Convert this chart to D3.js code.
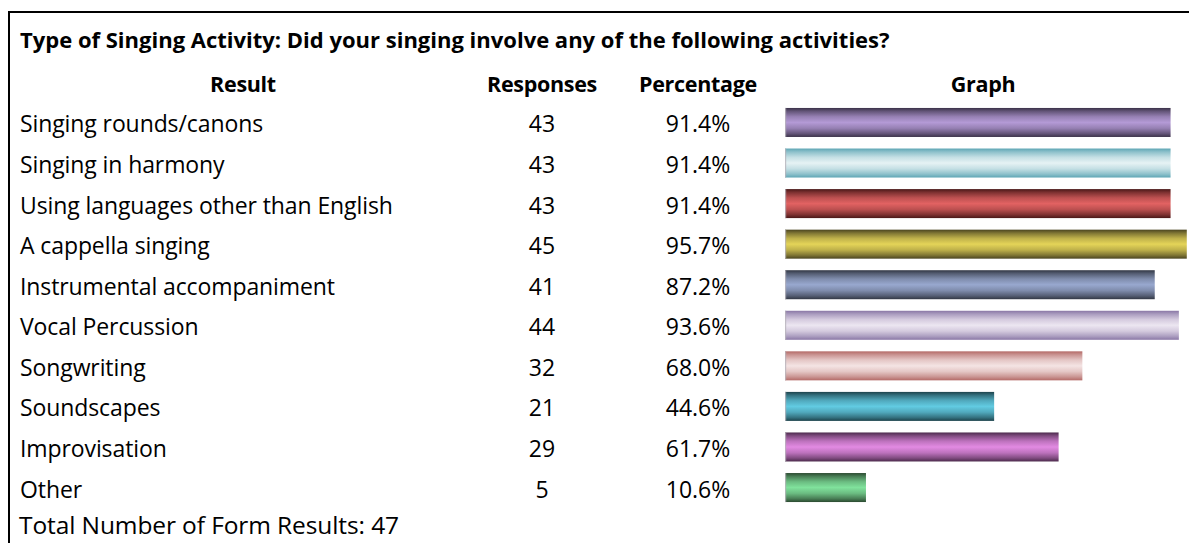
<!DOCTYPE html>
<html>
<head>
<meta charset="utf-8">
<script src="https://cdn.jsdelivr.net/npm/d3@7"></script>
<style>
  body { margin: 0; background: #fff; }
  svg { display: block; }
  text { font-family: "Open Sans", "Noto Sans", sans-serif; fill: #000; }
</style>
</head>
<body>
<svg id="chart" width="1189" height="543"></svg>
<script>
// Survey summary: type of singing activity
const titleText = "Type of Singing Activity: Did your singing involve any of the following activities?";
const headers = ["Result", "Responses", "Percentage", "Graph"];
const categories = [
  "Singing rounds/canons",
  "Singing in harmony",
  "Using languages other than English",
  "A cappella singing",
  "Instrumental accompaniment",
  "Vocal Percussion",
  "Songwriting",
  "Soundscapes",
  "Improvisation",
  "Other"
];
const responses = [43, 43, 43, 45, 41, 44, 32, 21, 29, 5];
const percentages = [91.4, 91.4, 91.4, 95.7, 87.2, 93.6, 68.0, 44.6, 61.7, 10.6];
const totalResults = 47;

// Tube shading: outer (top/bottom) tone and centre highlight per bar
const edgeColors = ["#3b3249", "#5ea6b5", "#4a1818", "#4a4420", "#323744", "#8a77a6", "#b46a67", "#1d434c", "#4c2a4c", "#2b4a30"];
const glowColors = ["#b49ad6", "#e6f2f4", "#e26262", "#e4d458", "#98a8cf", "#ece6f1", "#f4e4e4", "#62cbe2", "#e28ae2", "#80e29c"];

const svg = d3.select("#chart");
const W = 1189, H = 543;

// frame lines (top and left)
svg.append("line").attr("x1", 8).attr("x2", W).attr("y1", 12).attr("y2", 12)
  .attr("stroke", "#000").attr("stroke-width", 2);
svg.append("line").attr("x1", 9).attr("x2", 9).attr("y1", 11).attr("y2", H)
  .attr("stroke", "#000").attr("stroke-width", 2);

svg.append("text").attr("x", 20).attr("y", 48)
  .attr("font-size", 22).attr("font-weight", "bold")
  .text(titleText);

// column centres
const colX = [243, 542, 698, 983];
svg.selectAll("text.header").data(headers).join("text")
  .attr("class", "header")
  .attr("x", (d, i) => colX[i]).attr("y", 92)
  .attr("text-anchor", "middle")
  .attr("font-size", 21.5).attr("font-weight", "bold")
  .attr("letter-spacing", -0.3)
  .text(d => d);

const rows = categories.map((c, i) => ({
  name: c, resp: responses[i], pct: percentages[i], i
}));

const y = d3.scaleBand().domain(categories).range([96.4, 513.6]).padding(0.285);
const barX0 = 785;
const x = d3.scaleLinear().domain([0, 100]).range([41, 418]);

const defs = svg.append("defs");
rows.forEach(r => {
  const g = defs.append("linearGradient").attr("id", "tube" + r.i)
    .attr("x1", 0).attr("x2", 0).attr("y1", 0).attr("y2", 1);
  const mix = d3.interpolateRgb(edgeColors[r.i], glowColors[r.i]);
  [[0, 0], [0.12, 0.35], [0.3, 0.75], [0.5, 1], [0.7, 0.75], [0.88, 0.35], [1, 0]]
    .forEach(([o, t]) => g.append("stop").attr("offset", o).attr("stop-color", mix(t)));
});

const rowG = svg.selectAll("g.row").data(rows).join("g").attr("class", "row");
const baseY = d => y(d.name) + y.bandwidth() / 2 + 10;

rowG.append("text")
  .attr("x", 20).attr("y", baseY)
  .attr("font-size", 23)
  .attr("letter-spacing", -0.1)
  .text(d => d.name);

rowG.append("text")
  .attr("x", colX[1]).attr("y", baseY)
  .attr("font-size", 23).attr("text-anchor", "middle")
  .text(d => d.resp);

rowG.append("text")
  .attr("x", colX[2]).attr("y", baseY)
  .attr("font-size", 23).attr("text-anchor", "middle")
  .text(d => d3.format(".1f")(d.pct) + "%");

rowG.append("rect")
  .attr("x", barX0).attr("y", d => y(d.name))
  .attr("width", d => x(d.pct)).attr("height", y.bandwidth())
  .attr("fill", d => `url(#tube${d.i})`);

rowG.append("rect")
  .attr("x", barX0).attr("y", d => y(d.name))
  .attr("width", 1.2).attr("height", y.bandwidth())
  .attr("fill", "#b8b4bc").attr("opacity", 0.8);

svg.append("text").attr("x", 19).attr("y", 534)
  .attr("font-size", 24.5)
  .attr("letter-spacing", -0.1)
  .text("Total Number of Form Results: " + totalResults);
</script>
</body>
</html>
